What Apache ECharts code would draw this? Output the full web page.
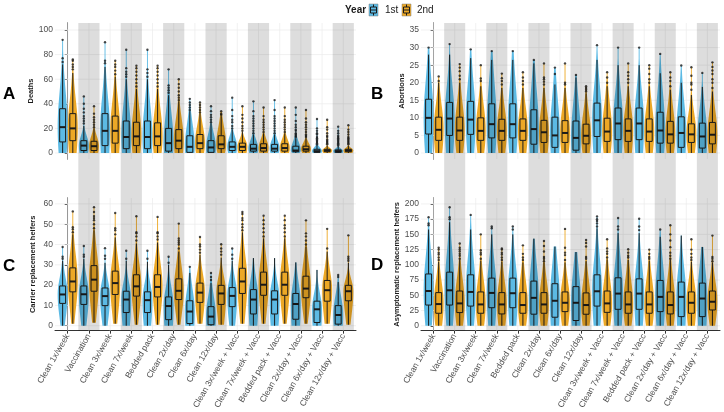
<!DOCTYPE html>
<html lang="en">
<head>
<meta charset="UTF-8">
<title>Violin plots by cleaning strategy</title>
<script src="https://cdn.jsdelivr.net/npm/echarts@6/dist/echarts.min.js"></script>
<style>
  html, body { margin: 0; padding: 0; background: #fff; }
  #main { width: 724px; height: 412px; }
</style>
</head>
<body>
<div id="main"></div>
<script>
// categories on the x axis (same for all four panels)
var categories = ['Clean 1x/week', 'Vaccination', 'Clean 3x/week', 'Clean 7x/week', 'Bedded pack',
  'Clean 2x/day', 'Clean 6x/day', 'Clean 12x/day', 'Clean 3x/week + Vacc', 'Clean 7x/week + Vacc',
  'Bedded pack + Vacc', 'Clean 2x/day + Vacc', 'Clean 6x/day + Vacc', 'Clean 12x/day + Vacc'];

// each row: [whisker low, q1, median, q3, whisker high, max]
var deaths1st = [
  [0, 9, 21, 36, 72, 92], [0, 2, 6, 10, 22, 46], [0, 6, 18, 32, 70, 90], [0, 3.5, 13, 26, 60, 84],
  [0, 3.5, 13, 26, 60, 84], [0, 1.5, 8, 20, 47, 68], [0, 0.5, 5, 14, 34, 44], [0, 0.5, 4.5, 10, 24, 38],
  [0, 2, 5, 9, 19, 45], [0, 1.5, 3.5, 7, 15, 42], [0, 1.5, 3.5, 7, 15, 43], [0, 1, 2, 5.5, 12, 37],
  [0, 0.5, 1.5, 3, 6.5, 27.6], [0, 0.5, 1.5, 2.5, 5.5, 21.4]];
var deaths2nd = [
  [0, 10, 20, 32, 65, 76], [0, 2, 5.5, 9.5, 20, 38], [0, 8, 18, 30, 62, 75], [0, 6, 13.5, 25, 52, 71],
  [0, 6, 13.5, 24.5, 52, 71], [0, 3.5, 10, 19, 42, 60], [0, 3.5, 8, 15, 32, 41], [0, 3.5, 7, 14, 30, 34],
  [0, 2, 5, 8, 17, 38], [0, 1.5, 4, 7.5, 16, 37], [0, 1.5, 4, 7.5, 16, 37], [0, 1.5, 3, 5.5, 12, 35],
  [0, 1, 2, 3, 6, 27], [0, 1, 2, 3, 6, 22.5]];
var deathsOut1st = [
  [74, 77, 92], [24, 26, 28, 30, 33, 36, 40, 46], [73, 75, 90], [62, 64, 66, 69, 84], [62, 65, 68, 84],
  [49, 51, 53, 55, 68], [35, 37, 39, 41, 44], [25, 27, 29, 31, 34, 38], [20, 22, 25, 27, 30, 35, 45],
  [16, 18, 20, 22, 24, 26, 28, 30, 34, 42], [16, 18, 20, 22, 24, 26, 28, 30, 35, 43],
  [13, 14, 15, 16, 18, 19, 21, 23, 26, 31, 37], [7, 8, 9, 10, 11, 12, 13, 15, 16, 18, 20, 27.6],
  [6, 7, 8, 9, 10, 11, 12, 13, 14, 16, 18, 21.4]];
var deathsOut2nd = [
  [68, 70, 72, 75, 76], [21, 23, 25, 27, 29, 32, 38], [64, 67, 70, 72, 75], [54, 57, 60, 63, 66, 69, 71],
  [54, 57, 60, 63, 66, 69, 71], [43, 45, 47, 50, 53, 56, 60], [33, 35, 37, 39, 41], [31, 32, 34],
  [18, 20, 22, 25, 28, 31, 38], [17, 19, 21, 23, 25, 27, 30, 37], [17, 19, 21, 23, 25, 27, 30, 37],
  [13, 14, 15, 17, 19, 21, 23, 25, 28, 35], [7, 8, 9, 10, 11, 13, 14, 16, 19, 21, 27],
  [7, 8, 9, 10, 11, 12, 13, 15, 17, 19, 22.5]];

var abort1st = [
  [0, 5.4, 10, 15.3, 28, 30], [0, 5, 9.8, 14.4, 28, 31], [0, 5.3, 9.5, 14.7, 27, 29.5], [0, 4.3, 8.2, 14, 26.5, 29],
  [0, 4.3, 8.2, 14, 26.5, 29], [0, 2.5, 6.8, 12.3, 25.5, 26.5], [0, 1.6, 5, 10.2, 19.5, 24.3], [0, 0.8, 4.3, 9.1, 21.5, 22.2],
  [0, 4.7, 9.3, 14.2, 26.5, 30.7], [0, 3.8, 8.4, 12.8, 25, 30], [0, 3.8, 8.4, 12.8, 25, 30], [0, 2.8, 6.4, 11.6, 22.7, 28.2],
  [0, 1.6, 5.7, 10.3, 20, 24.9], [0, 1.4, 4.7, 8.5, 18.8, 22.8]];
var abort2nd = [
  [0, 3.6, 6.6, 10.2, 20, 21.8], [0, 3.6, 6.4, 10.2, 20, 25.3], [0, 3.6, 6.3, 10, 19, 25], [0, 3.6, 6.3, 9.6, 18.5, 22.6],
  [0, 3.6, 6.3, 9.7, 18.5, 23], [0, 3, 5.9, 9.3, 18.5, 25.5], [0, 3, 5.7, 9.2, 18.5, 25.5], [0, 2.6, 4.9, 8.2, 17, 19],
  [0, 3.3, 6.1, 9.9, 19, 23], [0, 3.3, 6.3, 9.7, 19, 25.5], [0, 3.3, 6.1, 9.7, 19, 25], [0, 2.8, 5.3, 9, 18, 23],
  [0, 3, 5.3, 8.3, 16.5, 24.4], [0, 2.6, 5.2, 8.7, 17.5, 25.8]];
var abortOut1st = [[30], [31], [29.5], [29], [29], [26.5], [22.5, 24.3], [22.2], [30.7], [30], [30], [28.2], [24.9], [22.8]];
var abortOut2nd = [
  [20.5, 21.8], [21, 22, 23.3, 24.3, 25.3], [20.5, 21.2, 25], [19.5, 20.5, 21.3, 22.6], [19.5, 20.5, 21.5, 23],
  [19.5, 20.3, 21, 21.5, 25.5], [19.5, 20, 25.5], [17.5, 18, 18.5, 19], [20, 21.5, 23], [20, 21, 22, 23, 25.5],
  [20, 21, 22.5, 24, 25], [19, 20.5, 21.5, 23], [18, 19.5, 20, 22, 24.4], [18.5, 20, 21, 22.5, 23.5, 24.5, 25.8]];

var carrier1st = [
  [0, 11, 15.4, 19.6, 32, 38.8], [0, 10.5, 15.5, 19.6, 33, 39.3], [0, 9.9, 14.6, 18.6, 31, 38.2], [0, 6.5, 12.9, 17, 32, 36.9],
  [0, 6.5, 12.6, 16.7, 31.5, 36.9], [0, 3, 9.7, 14.2, 30, 34], [0, 1.1, 7, 12.3, 26, 29], [0, 0.5, 4.5, 9.4, 21, 26],
  [0, 9.4, 14.7, 18.8, 32, 38], [0, 5.8, 12.9, 17.8, 33.3, 33.3], [0, 5.8, 12.9, 17.2, 33.3, 33.3], [0, 3.2, 10.7, 15.9, 31.2, 31.2],
  [0, 1.6, 8.1, 12.1, 27.5, 27.5], [0, 0.8, 5.3, 9.9, 21.5, 25]];
var carrier2nd = [
  [1, 16.7, 21.8, 28.5, 45, 56.3], [1.5, 17, 22.7, 29.6, 47, 58.4], [1, 15.4, 21, 26.9, 43.5, 55.5], [0.5, 14.6, 19.4, 25.1, 40.5, 53.9],
  [0.5, 14.2, 19.1, 25.1, 41, 53.6], [0.5, 12.9, 17.2, 23.1, 36.5, 50.3], [1, 11.5, 16.3, 21, 35, 43.7], [0.5, 10.5, 15.9, 19.9, 33.5, 40.1],
  [1, 15.9, 21.8, 28.3, 46, 56], [1, 15, 20.2, 26.4, 43, 54.2], [1, 15, 20.2, 26.4, 43, 54.2], [1, 13.8, 18.3, 24.4, 39, 51.9],
  [1, 12.1, 17.5, 22.3, 36.5, 47.7], [0.5, 12.3, 17, 19.9, 31, 44.5]];
var carrierOut1st = [[33, 34, 38.8], [34, 35, 39.3], [33, 34.5, 38.2], [33, 36.9], [33, 36.9], [31, 34], [29], [22.5, 24, 26],
  [33, 35, 38], [], [], [], [], [24, 25]];
var carrierOut2nd = [
  [46, 47.5, 48.5, 56.3], [48, 50, 52, 53, 54, 56, 58.4], [45, 47, 48, 55.5], [42, 44, 45.5, 46, 53.9], [42.5, 44, 45.5, 46, 53.6],
  [38, 40, 41, 42, 43, 50.3], [36, 37.5, 39, 40, 43.7], [35, 36.5, 38, 40.1], [47, 48.5, 50, 52, 53, 55, 56],
  [44, 46, 48, 50, 52, 54.2], [44, 46, 48, 49.5, 52, 54.2], [40, 42, 44, 45.5, 51.9], [38, 47.7], [32, 33, 34, 44.5]];

var asym1st = [
  [0, 34, 57, 85, 158, 178], [0, 34, 58.2, 88, 170, 194.6], [0, 32.3, 55.5, 83.6, 158, 182], [0, 29.6, 53.9, 78.2, 150, 163],
  [0, 29.6, 53.4, 78.2, 150, 163], [0, 19, 45.8, 73.3, 143, 143], [0, 14, 41, 69, 130, 130], [0, 8.6, 37.7, 64.2, 121, 121],
  [0, 32.3, 56.6, 83.6, 160, 179.5], [0, 27, 52.8, 78.7, 152, 176.8], [0, 27, 52.8, 77, 152, 175.7], [0, 23.2, 47.4, 74.4, 146, 158],
  [0, 15, 47.4, 71.7, 148, 148], [0, 15, 44.7, 70, 129.4, 129.4]];
var asym2nd = [
  [0, 20.5, 35.6, 54.4, 105, 128], [0, 21.6, 36.7, 57, 108, 135], [0, 20.5, 35, 55.5, 107, 150], [0, 19.4, 35, 54.4, 105, 127],
  [0, 20.5, 34, 54.4, 104, 132], [0, 20.5, 35, 54.4, 104, 139], [0, 23.2, 37.7, 55.5, 104, 159], [0, 18.9, 34, 53.9, 106, 140.7],
  [0, 22, 36.7, 57, 109, 142], [0, 20.5, 35, 55.5, 108, 125.6], [0, 20.5, 35, 55.5, 107, 125], [0, 19.4, 34, 55.5, 108, 165],
  [0, 20.5, 37.7, 55.5, 105, 142], [0, 25.9, 39.4, 57, 104, 148]];
var asymOut1st = [[165, 168, 178], [175, 178, 194.6], [182], [160, 163], [158, 163], [], [], [],
  [163, 168, 172, 175, 179.5], [158, 163, 176.8], [157, 163, 175.7], [158], [], []];
var asymOut2nd = [
  [108, 112, 117, 120, 125, 128], [110, 115, 118, 122, 125, 128, 135], [110, 117, 120, 124, 150], [108, 112, 117, 120, 125, 127],
  [108, 112, 118, 132], [106, 110, 113, 122, 131, 139], [108, 116, 120, 128, 159], [110, 113, 130, 136, 140.7],
  [112, 118, 122, 127, 142], [112, 115, 120, 125.6], [110, 113, 118, 125], [110, 115, 120, 129, 140, 150, 165],
  [108, 112, 118, 125, 142], [106, 110, 113, 148]];

// y tick labels
var deathsTicks = [0, 20, 40, 60, 80, 100];
var abortTicks = [0, 5, 10, 15, 20, 25, 30, 35];
var carrierTicks = [0, 10, 20, 30, 40, 50, 60];
var asymTicks = [0, 25, 50, 75, 100, 125, 150, 175, 200];

var FONT = 'Liberation Sans, Arial, sans-serif';
var BLUE = '#5cbae4', ORANGE = '#eca826', INK = '#1a1a1a';
var OFFSET = 0.24, VIOLIN_W = 0.47, BOX_W = 0.28;
var SPREAD_LO = 1.8, SPREAD_HI = 1.3;   // widen the outline beyond the quartile spread

var panels = [
  { name: 'Deaths', letter: 'A', s1: deaths1st, s2: deaths2nd, o1: deathsOut1st, o2: deathsOut2nd, ticks: deathsTicks,
    min: -4.9, max: 105.7, grid: { left: 55, top: 23, width: 301, height: 136 }, xlab: false, ext: 39, gap: 18, lx: 3, ly: 94 },
  { name: 'Abortions', letter: 'B', s1: abort1st, s2: abort2nd, o1: abortOut1st, o2: abortOut2nd, ticks: abortTicks,
    min: -1.71, max: 37, grid: { left: 421, top: 23, width: 299, height: 136 }, xlab: false, ext: 39, gap: 14, lx: 371, ly: 94 },
  { name: 'Carrier replacement heifers', letter: 'C', s1: carrier1st, s2: carrier2nd, o1: carrierOut1st, o2: carrierOut2nd, ticks: carrierTicks,
    min: -2.42, max: 62.9, grid: { left: 55, top: 198, width: 301, height: 135 }, xlab: true, ext: 0, gap: 18, lx: 3, ly: 266 },
  { name: 'Asymptomatic replacement heifers', letter: 'D', s1: asym1st, s2: asym2nd, o1: asymOut1st, o2: asymOut2nd, ticks: asymTicks,
    min: -8.06, max: 209.7, grid: { left: 421, top: 198, width: 299, height: 135 }, xlab: true, ext: 0, gap: 15.5, lx: 371, ly: 265 }
];

var catIdx = categories.map(function (c, i) { return i; });

function violinRender(off, fill) {
  return function (params, api) {
    var cx = api.value(0) + off;
    var lo = api.value(1), q1 = api.value(2), med = api.value(3), q3 = api.value(4), hi = api.value(5), top = api.value(6);
    var unit = api.size([1, 0])[0];
    var hw = unit * VIOLIN_W / 2, bw = unit * BOX_W / 2;
    var sl = Math.max(SPREAD_LO * (med - q1) / 0.6745, 0.3), su = Math.max(SPREAD_HI * (q3 - med) / 0.6745, 0.3);
    var right = [], left = [];
    var n = 100;
    for (var k = 0; k <= n; k++) {
      var v = lo + (top - lo) * k / n;
      var d = v - med, s = d < 0 ? sl : su;
      var w = Math.max(hw * Math.exp(-0.5 * d * d / (s * s)), 0.45);
      var p = api.coord([cx, v]);
      right.push([p[0] + w, p[1]]);
      left.unshift([p[0] - w, p[1]]);
    }
    var c = api.coord([cx, med]);
    var yLo = api.coord([cx, lo])[1], yQ1 = api.coord([cx, q1])[1], yQ3 = api.coord([cx, q3])[1], yHi = api.coord([cx, hi])[1];
    return {
      type: 'group',
      children: [
        { type: 'polygon', shape: { points: right.concat(left) }, style: { fill: fill } },
        { type: 'line', shape: { x1: c[0], y1: yLo, x2: c[0], y2: yQ1 }, style: { stroke: INK, lineWidth: 1 } },
        { type: 'line', shape: { x1: c[0], y1: yQ3, x2: c[0], y2: yHi }, style: { stroke: INK, lineWidth: 1 } },
        { type: 'rect', shape: { x: c[0] - bw, y: yQ3, width: 2 * bw, height: yQ1 - yQ3 }, style: { fill: fill, stroke: INK, lineWidth: 1 } },
        { type: 'line', shape: { x1: c[0] - bw, y1: c[1], x2: c[0] + bw, y2: c[1] }, style: { stroke: INK, lineWidth: 2 } }
      ]
    };
  };
}

function outlierData(list, off) {
  var out = [];
  list.forEach(function (vals, i) {
    vals.forEach(function (v) { out.push([i + off, v]); });
  });
  return out;
}

var grid = [], xAxis = [], yAxis = [], series = [], graphic = [];

panels.forEach(function (pn, g) {
  grid.push(pn.grid);
  xAxis.push({
    type: 'value', gridIndex: g, min: -0.6, max: 13.6,
    splitLine: { show: false },
    axisLine: { show: pn.xlab, onZero: false, lineStyle: { color: '#333', width: 1 } },
    axisTick: { show: pn.xlab, length: 3, customValues: catIdx, lineStyle: { color: '#333' } },
    axisLabel: {
      show: pn.xlab, customValues: catIdx, rotate: 60, margin: 4, fontSize: 8.5, color: '#4d4d4d', fontFamily: FONT,
      formatter: function (v) { return categories[Math.round(v)]; }
    }
  });
  yAxis.push({
    type: 'value', gridIndex: g, min: pn.min, max: pn.max,
    name: pn.name, nameLocation: 'middle', nameGap: pn.gap,
    nameTextStyle: { fontSize: 7.5, fontWeight: 'bold', color: INK, fontFamily: FONT },
    splitLine: { show: false },
    axisLine: { show: true, lineStyle: { color: '#333', width: 1 } },
    axisTick: { show: true, length: 3, customValues: pn.ticks, lineStyle: { color: '#333' } },
    axisLabel: { customValues: pn.ticks, margin: 2, fontSize: 8.5, color: '#4d4d4d', fontFamily: FONT }
  });

  // light grid lines
  series.push({
    type: 'custom', xAxisIndex: g, yAxisIndex: g, silent: true, z: 1,
    data: pn.ticks.map(function (t) { return [0, t]; }).concat(catIdx.map(function (i) { return [1, i]; })),
    renderItem: function (params, api) {
      var cs = params.coordSys;
      if (api.value(0) === 0) {
        var y = api.coord([0, api.value(1)])[1];
        return { type: 'line', shape: { x1: cs.x, y1: y, x2: cs.x + cs.width, y2: y }, style: { stroke: '#ebebeb', lineWidth: 0.7 } };
      }
      var x = api.coord([api.value(1), 0])[0];
      return { type: 'line', shape: { x1: x, y1: cs.y, x2: x, y2: cs.y + cs.height }, style: { stroke: '#ebebeb', lineWidth: 0.7 } };
    }
  });

  [[pn.s1, pn.o1, -OFFSET, BLUE, '1st'], [pn.s2, pn.o2, OFFSET, ORANGE, '2nd']].forEach(function (d) {
    series.push({
      type: 'custom', name: d[4], xAxisIndex: g, yAxisIndex: g, silent: true, z: 2,
      data: d[0].map(function (s, i) { return [i].concat(s); }),
      renderItem: violinRender(d[2], d[3])
    });
    series.push({
      type: 'scatter', name: d[4], xAxisIndex: g, yAxisIndex: g, silent: true, z: 3,
      symbolSize: 2.4, itemStyle: { color: INK },
      data: outlierData(d[1], d[2])
    });
  });

  // alternating grey bands laid over the marks
  var ext = pn.ext;
  series.push({
    type: 'custom', xAxisIndex: g, yAxisIndex: g, silent: true, z: 4,
    data: catIdx.filter(function (i) { return i % 2 === 1; }),
    renderItem: function (params, api) {
      var cs = params.coordSys;
      var x0 = api.coord([api.value(0) - 0.5, 0])[0], x1 = api.coord([api.value(0) + 0.5, 0])[0];
      return { type: 'rect', shape: { x: x0, y: cs.y, width: x1 - x0, height: cs.height + ext }, style: { fill: 'rgba(0,0,0,0.135)' } };
    }
  });

  graphic.push({ type: 'text', x: pn.lx, y: pn.ly, style: { text: pn.letter, font: 'bold 17px ' + FONT, fill: '#000', verticalAlign: 'middle' } });
});

// legend: Year [box] 1st [box] 2nd
function legendKey(x, fill) {
  var y = 4;
  return {
    type: 'group', children: [
      { type: 'rect', shape: { x: x, y: y, width: 9, height: 12 }, style: { fill: fill, stroke: '#7f7f7f', lineWidth: 0.5 } },
      { type: 'rect', shape: { x: x + 1.5, y: y + 3, width: 6, height: 6 }, style: { fill: fill, stroke: INK, lineWidth: 1 } },
      { type: 'line', shape: { x1: x + 1.5, y1: y + 6, x2: x + 7.5, y2: y + 6 }, style: { stroke: INK, lineWidth: 1 } },
      { type: 'line', shape: { x1: x + 4.5, y1: y + 0.5, x2: x + 4.5, y2: y + 3 }, style: { stroke: INK, lineWidth: 1 } },
      { type: 'line', shape: { x1: x + 4.5, y1: y + 9, x2: x + 4.5, y2: y + 11.5 }, style: { stroke: INK, lineWidth: 1 } }
    ]
  };
}
graphic.push({ type: 'text', x: 345, y: 10, style: { text: 'Year', font: 'bold 10px ' + FONT, fill: INK, verticalAlign: 'middle' } });
graphic.push(legendKey(369, BLUE));
graphic.push({ type: 'text', x: 385, y: 10, style: { text: '1st', font: '10px ' + FONT, fill: INK, verticalAlign: 'middle' } });
graphic.push(legendKey(402, ORANGE));
graphic.push({ type: 'text', x: 417, y: 10, style: { text: '2nd', font: '10px ' + FONT, fill: INK, verticalAlign: 'middle' } });

var myChart = echarts.init(document.getElementById('main'));
myChart.setOption({
  backgroundColor: '#fff',
  animation: false,
  grid: grid,
  xAxis: xAxis,
  yAxis: yAxis,
  series: series,
  graphic: graphic
});
</script>
</body>
</html>
